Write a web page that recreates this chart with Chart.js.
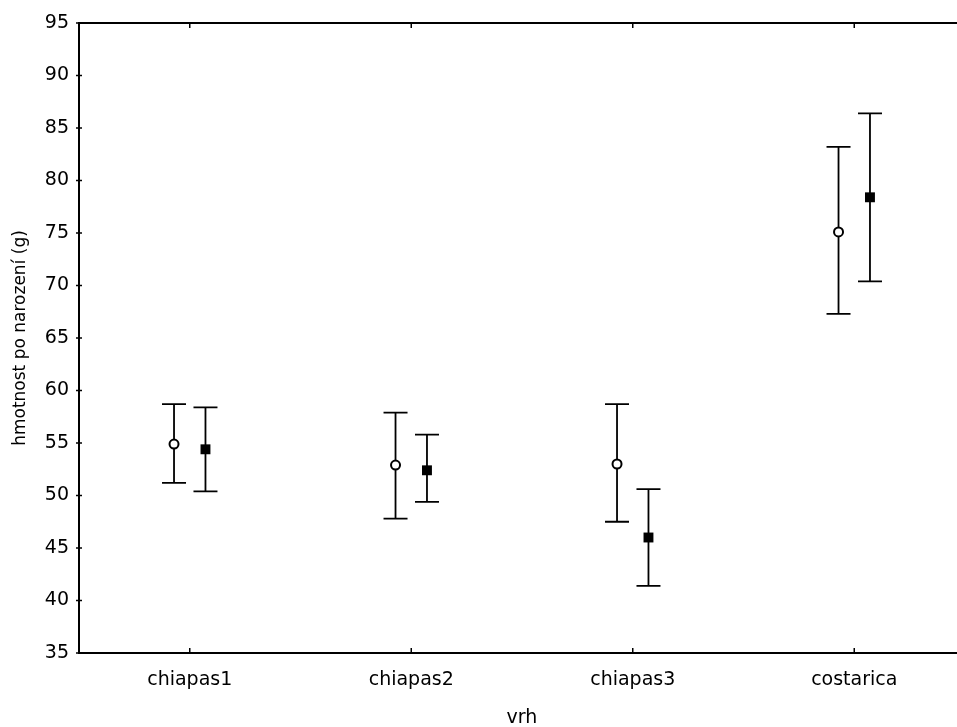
<!DOCTYPE html>
<html>
<head>
<meta charset="utf-8">
<title>hmotnost po narození</title>
<script src="https://cdn.jsdelivr.net/npm/chart.js@4.4.1/dist/chart.umd.min.js"></script>
<style>
  html, body { margin: 0; padding: 0; overflow: hidden; background: #fff; }
  canvas { display: block; }
</style>
</head>
<body>
<canvas id="chart" width="972" height="727"></canvas>
<script>
// vrhy na ose x
const categories = ['chiapas1', 'chiapas2', 'chiapas3', 'costarica'];

// kolečka: průměr a meze intervalu
const circleMean  = [54.9, 52.9, 53.0, 75.1];
const circleLower = [51.2, 47.8, 47.5, 67.3];
const circleUpper = [58.7, 57.9, 58.7, 83.2];

// čtverečky: průměr a meze intervalu
const squareMean  = [54.4, 52.4, 46.0, 78.4];
const squareLower = [50.4, 49.4, 41.4, 70.4];
const squareUpper = [58.4, 55.8, 50.6, 86.4];

// popisky osy y
const yTicks = [35, 40, 45, 50, 55, 60, 65, 70, 75, 80, 85, 90, 95];

const shift = 0.071; // posun bodů od středu kategorie
const tickFont = { family: 'DejaVu Sans', size: 19 };

// chybové úsečky s příčkami, kreslené pod body
const errorBars = {
    id: 'errorBars',
    beforeDatasetsDraw(chart) {
        const ctx = chart.ctx;
        const yScale = chart.scales.y;
        ctx.save();
        ctx.strokeStyle = '#000';
        ctx.lineWidth = 1.8;
        chart.data.datasets.forEach((ds, di) => {
            chart.getDatasetMeta(di).data.forEach((pt, i) => {
                const top = yScale.getPixelForValue(ds.upper[i]);
                const bottom = yScale.getPixelForValue(ds.lower[i]);
                ctx.beginPath();
                ctx.moveTo(pt.x, top);
                ctx.lineTo(pt.x, bottom);
                ctx.moveTo(pt.x - 12, top);
                ctx.lineTo(pt.x + 12, top);
                ctx.moveTo(pt.x - 12, bottom);
                ctx.lineTo(pt.x + 12, bottom);
                ctx.stroke();
            });
        });
        ctx.restore();
    }
};

// horní okraj rámu a krátké značky dílků
const frame = {
    id: 'frame',
    afterDraw(chart) {
        const ctx = chart.ctx;
        const area = chart.chartArea;
        const xScale = chart.scales.x;
        const yScale = chart.scales.y;
        ctx.save();
        ctx.strokeStyle = '#000';
        ctx.lineWidth = 2;
        ctx.beginPath();
        ctx.moveTo(area.left - 1, area.top);
        ctx.lineTo(area.right + 2, area.top);
        ctx.stroke();
        ctx.lineWidth = 1.5;
        ctx.beginPath();
        xScale.ticks.forEach(t => {
            const x = xScale.getPixelForValue(t.value);
            ctx.moveTo(x, area.top);
            ctx.lineTo(x, area.top + 5);
            ctx.moveTo(x, area.bottom);
            ctx.lineTo(x, area.bottom - 5);
        });
        yScale.ticks.forEach(t => {
            const y = yScale.getPixelForValue(t.value);
            ctx.moveTo(area.left - 3, y);
            ctx.lineTo(area.left + 3, y);
        });
        ctx.stroke();
        ctx.restore();
    }
};

const ctxChart = document.getElementById('chart').getContext('2d');
const chart = new Chart(ctxChart, {
    type: 'scatter',
    data: {
        datasets: [
            {
                label: 'kolečka',
                data: circleMean.map((v, i) => ({ x: i - shift, y: v })),
                lower: circleLower,
                upper: circleUpper,
                pointStyle: 'circle',
                pointRadius: 4.5,
                backgroundColor: '#fff',
                borderColor: '#000',
                borderWidth: 2
            },
            {
                label: 'čtverečky',
                data: squareMean.map((v, i) => ({ x: i + shift, y: v })),
                lower: squareLower,
                upper: squareUpper,
                pointStyle: 'rect',
                pointRadius: 7,
                backgroundColor: '#000',
                borderColor: '#000',
                borderWidth: 0
            }
        ]
    },
    options: {
        responsive: false,
        animation: false,
        events: [],
        layout: { padding: { top: 23, right: 0, left: 0, bottom: 0 } },
        plugins: {
            legend: { display: false },
            tooltip: { enabled: false }
        },
        scales: {
            x: {
                type: 'linear',
                position: 'bottom',
                min: -0.5,
                max: 3.5,
                afterBuildTicks: s => { s.ticks = categories.map((c, i) => ({ value: i })); },
                afterFit: s => { s.height = 74; },
                ticks: {
                    callback: v => categories[v],
                    font: tickFont,
                    color: '#000',
                    padding: 16,
                    autoSkip: false,
                    maxRotation: 0
                },
                grid: { display: false, drawTicks: false },
                border: { display: true, color: '#000', width: 2 },
                title: {
                    display: true,
                    text: 'vrh',
                    font: tickFont,
                    color: '#000',
                    padding: { top: 0, bottom: -2 }
                }
            },
            y: {
                type: 'linear',
                min: 35,
                max: 95,
                afterBuildTicks: s => { s.ticks = yTicks.map(v => ({ value: v })); },
                afterFit: s => { s.width = 79; },
                ticks: { font: tickFont, color: '#000', padding: 10 },
                grid: { display: false, drawTicks: false },
                border: { display: true, color: '#000', width: 2 },
                title: {
                    display: true,
                    text: 'hmotnost po narození (g)',
                    font: { family: 'DejaVu Sans', size: 17 },
                    color: '#000',
                    padding: { top: 10, bottom: 0 }
                }
            }
        }
    },
    plugins: [errorBars, frame]
});
</script>
</body>
</html>
